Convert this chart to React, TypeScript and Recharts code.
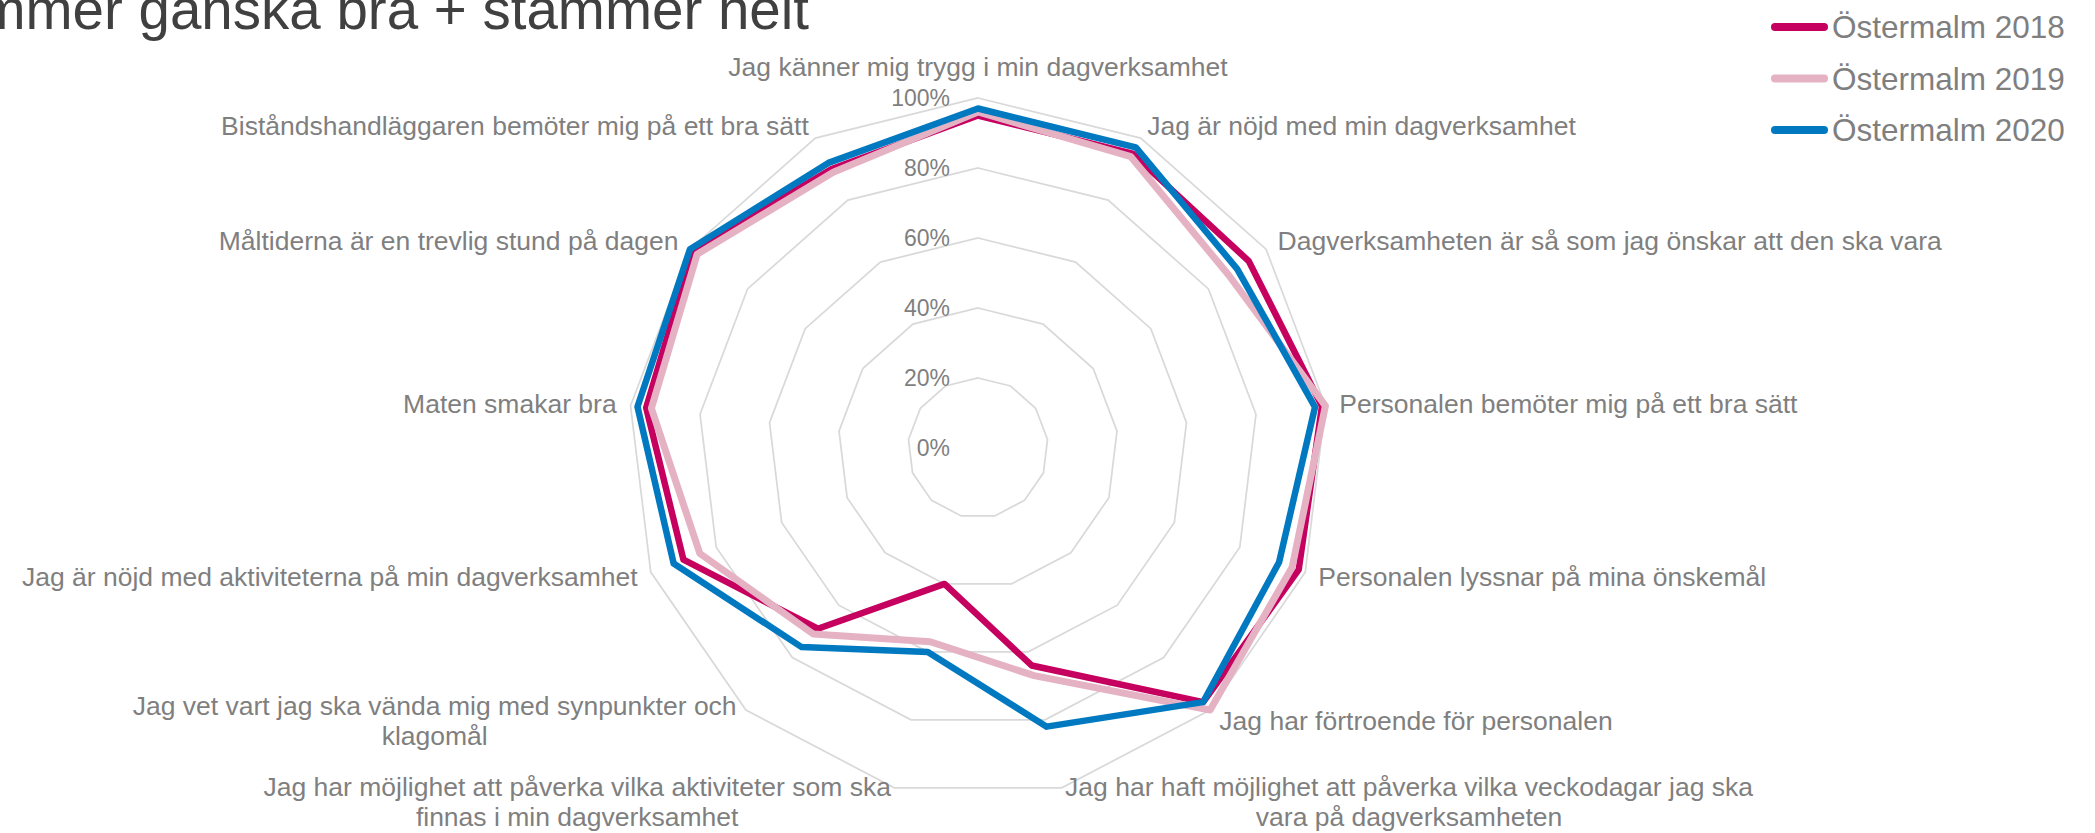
import React from "react";
import { RadarChart, Radar, PolarGrid, PolarAngleAxis, PolarRadiusAxis } from "recharts";

const categories = [
  "Jag känner mig trygg i min dagverksamhet",
  "Jag är nöjd med min dagverksamhet",
  "Dagverksamheten är så som jag önskar att den ska vara",
  "Personalen bemöter mig på ett bra sätt",
  "Personalen lyssnar på mina önskemål",
  "Jag har förtroende för personalen",
  "Jag har haft möjlighet att påverka vilka veckodagar jag ska\nvara på dagverksamheten",
  "Jag har möjlighet att påverka vilka aktiviteter som ska\nfinnas i min dagverksamhet",
  "Jag vet vart jag ska vända mig med synpunkter och\nklagomål",
  "Jag är nöjd med aktiviteterna på min dagverksamhet",
  "Maten smakar bra",
  "Måltiderna är en trevlig stund på dagen",
  "Biståndshandläggaren bemöter mig på ett bra sätt",
];

const values2018 = [0.95, 0.95, 0.94, 0.99, 0.98, 0.97, 0.64, 0.4, 0.69, 0.9, 0.955, 0.99, 0.9];
const values2019 = [0.96, 0.94, 0.87, 1.0, 0.96, 1.0, 0.67, 0.57, 0.71, 0.85, 0.94, 0.975, 0.89];
const values2020 = [0.97, 0.97, 0.9, 0.97, 0.92, 0.97, 0.82, 0.6, 0.76, 0.93, 0.98, 1.0, 0.92];

const seriesNames = ["Östermalm 2018", "Östermalm 2019", "Östermalm 2020"];
const radiusTicks = [0, 0.2, 0.4, 0.6, 0.8, 1];
const titleText = "Stämmer ganska bra + stämmer helt";

const colors = ["#C5005F", "#E5B2C4", "#0079C1"];
const FONT = "'Liberation Sans', Arial, sans-serif";
const LABEL_COLOR = "#7f7f7f";
const CX = 978;
const CY = 448;
const R = 350;
const LABEL_SIZE = 26.5;
const LH = 30;

const data = categories.map((c, i) => ({
  cat: c,
  y2018: values2018[i],
  y2019: values2019[i],
  y2020: values2020[i],
}));

let ctx: CanvasRenderingContext2D | null = null;
function measure(text: string): number {
  if (!ctx) {
    const c = document.createElement("canvas");
    ctx = c.getContext("2d");
  }
  if (!ctx) return text.length * LABEL_SIZE * 0.5;
  ctx.font = `${LABEL_SIZE}px ${FONT}`;
  return ctx.measureText(text).width;
}

function AngleTick(props: any) {
  const { payload } = props;
  const a = (payload.coordinate * Math.PI) / 180;
  const cos = Math.cos(a);
  const sin = Math.sin(a);
  const off = 14;
  const px = CX + (R + off) * cos;
  const py = CY - (R + off) * sin;
  const lines = String(payload.value).split("\n");
  const boxW = Math.max(...lines.map(measure));
  let centerX = px;
  if (cos > 0.05) centerX = px + boxW / 2;
  else if (cos < -0.05) centerX = px - boxW / 2;
  const h = lines.length * LH;
  let centerY = py;
  if (Math.abs(cos) <= 0.05) centerY = py - Math.sign(sin) * (h / 2 + 2);
  return (
    <g>
      {lines.map((ln, i) => (
        <text
          key={i}
          x={centerX}
          y={centerY - h / 2 + LH * (i + 0.5)}
          dy="0.35em"
          textAnchor="middle"
          fontFamily={FONT}
          fontSize={LABEL_SIZE}
          fill={LABEL_COLOR}
        >
          {ln}
        </text>
      ))}
    </g>
  );
}

function RadiusTick(props: any) {
  const { payload } = props;
  const v = Number(payload.value);
  const y = CY - v * R;
  return (
    <text
      x={CX - 28}
      y={y}
      dy="0.35em"
      textAnchor="end"
      fontFamily={FONT}
      fontSize={23}
      fill={LABEL_COLOR}
    >
      {`${Math.round(v * 100)}%`}
    </text>
  );
}

export default function App() {
  return (
    <div style={{ position: "absolute", left: 0, top: 0, width: 2095, height: 833, background: "#fff", overflow: "hidden" }}>
      <RadarChart
        width={2095}
        height={833}
        cx={CX}
        cy={CY}
        outerRadius={R}
        data={data}
        margin={{ top: 0, right: 0, bottom: 0, left: 0 }}
      >
        <PolarGrid gridType="polygon" radialLines={false} stroke="#d9d9d9" strokeWidth={1.75} />
        <PolarAngleAxis dataKey="cat" tick={<AngleTick />} tickLine={false} axisLine={false} />
        <PolarRadiusAxis
          angle={90}
          domain={[0, 1]}
          ticks={radiusTicks as any}
          tickCount={6}
          axisLine={false}
          tickLine={false}
          tick={<RadiusTick />}
        />
        <Radar name={seriesNames[0]} dataKey="y2018" stroke={colors[0]} strokeWidth={6.5} strokeLinejoin="round" fill="none" fillOpacity={0} dot={false} isAnimationActive={false} />
        <Radar name={seriesNames[1]} dataKey="y2019" stroke={colors[1]} strokeWidth={7} strokeLinejoin="round" fill="none" fillOpacity={0} dot={false} isAnimationActive={false} />
        <Radar name={seriesNames[2]} dataKey="y2020" stroke={colors[2]} strokeWidth={6.5} strokeLinejoin="round" fill="none" fillOpacity={0} dot={false} isAnimationActive={false} />
      </RadarChart>
      <svg
        width={2095}
        height={833}
        style={{ position: "absolute", left: 0, top: 0, pointerEvents: "none" }}
      >
        <text x={809} y={29} textAnchor="end" fontFamily={FONT} fontSize={56.5} fill="#404040">
          {titleText}
        </text>
        {seriesNames.map((n, i) => {
          const y = 27 + i * 51.5;
          return (
            <g key={n}>
              <line x1={1775} x2={1824} y1={y} y2={y} stroke={colors[i]} strokeWidth={8} strokeLinecap="round" />
              <text x={1832} y={y} dy="0.35em" fontFamily={FONT} fontSize={31.5} fill={LABEL_COLOR}>
                {n}
              </text>
            </g>
          );
        })}
      </svg>
    </div>
  );
}
